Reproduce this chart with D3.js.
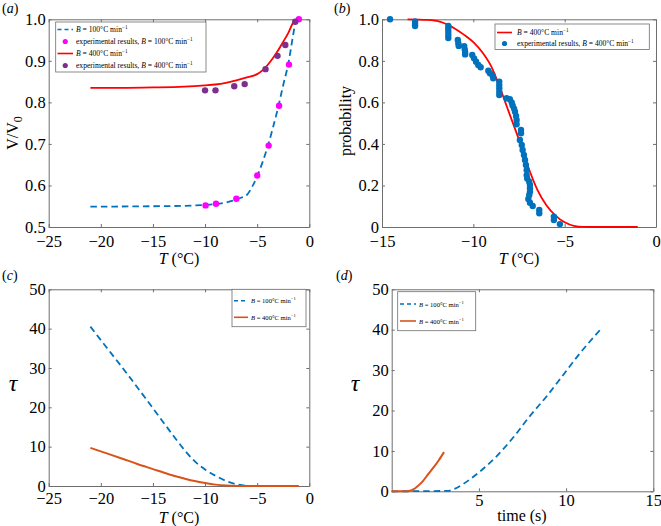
<!DOCTYPE html>
<html>
<head>
<meta charset="utf-8">
<script src="https://cdn.jsdelivr.net/npm/d3@7"></script>
<style>
  body { margin: 0; background: #fff; }
  svg text { font-family: "Liberation Serif", "Times New Roman", serif; fill: #000; }
</style>
</head>
<body>
<div id="chart"></div>
<script>
//------------------------------- data -------------------------------

// (a) normalised volume vs temperature
var aFit100T = [-21, -15, -12, -10, -9, -8, -7, -6.5, -6, -5.5, -5, -4.5, -4, -3.5, -3, -2.5, -2, -1.6, -1.3];
var aFit100V = [0.549, 0.550, 0.551, 0.553, 0.555, 0.559, 0.566, 0.571, 0.577, 0.596, 0.622, 0.655, 0.693, 0.738, 0.787, 0.842, 0.895, 0.955, 1.0];
var aExp100T = [-9.95, -8.95, -7, -5, -3.9, -2.9, -1.95, -1.0];
var aExp100V = [0.552, 0.556, 0.568, 0.624, 0.696, 0.792, 0.891, 1.0];
var aFit400T = [-21, -18, -15, -12, -10, -9, -8, -7, -6, -5, -4.5, -4, -3.5, -3, -2.5, -2, -1.6, -1.3];
var aFit400V = [0.835, 0.835, 0.836, 0.838, 0.841, 0.843, 0.847, 0.853, 0.86, 0.868, 0.877, 0.89, 0.906, 0.925, 0.946, 0.968, 0.99, 1.0];
var aExp400T = [-10, -9, -7.2, -6.2, -4.2, -3.05, -2.3, -1.35];
var aExp400V = [0.829, 0.829, 0.839, 0.844, 0.880, 0.912, 0.938, 0.994];

// (b) probability vs temperature
var bFitT = [-13.6, -12.5, -11.8, -11, -10.5, -10, -9.5, -9, -8.5, -8, -7.5, -7, -6.5, -6, -5.5, -5, -4.5, -4, -3, -2, -1];
var bFitP = [1.0, 0.997, 0.988, 0.955, 0.925, 0.89, 0.84, 0.77, 0.66, 0.54, 0.42, 0.29, 0.18, 0.105, 0.055, 0.023, 0.006, 0.001, 0, 0, 0];
var bExpT = [-14.56, -13.19, -13.19, -13.19,
  -11.37, -11.37, -11.37, -11.37, -11.37,
  -10.85, -10.82, -10.8, -10.5, -10.47, -10.45, -10.45,
  -10.06, -9.96, -9.85, -9.73, -9.6, -9.18, -9.09, -8.94, -8.91,
  -8.58, -8.58, -8.58, -8.58, -8.58,
  -8.18, -8.0, -7.9, -7.85, -7.77, -7.72, -7.66, -7.63, -7.63,
  -7.39, -7.39, -7.45, -7.35, -7.3, -7.23, -7.17, -7.12, -7.08, -7.08, -7.05,
  -6.94, -6.9, -6.9, -6.9, -6.94, -6.99, -6.9, -6.75,
  -6.39, -6.39, -5.59, -5.59, -5.26];
var bExpP = [1.0, 0.99, 0.978, 0.968,
  0.968, 0.955, 0.94, 0.925, 0.91,
  0.90, 0.885, 0.872, 0.871, 0.855, 0.842, 0.831,
  0.828, 0.812, 0.796, 0.78, 0.769, 0.752, 0.74, 0.728, 0.716,
  0.70, 0.684, 0.668, 0.651, 0.635,
  0.62, 0.615, 0.60, 0.585, 0.57, 0.555, 0.535, 0.515, 0.495,
  0.467, 0.451, 0.419, 0.395, 0.371, 0.347, 0.323, 0.299, 0.274, 0.25, 0.234,
  0.218, 0.202, 0.186, 0.17, 0.154, 0.135, 0.117, 0.101,
  0.082, 0.066, 0.05, 0.034, 0.014];

// (c) tau vs temperature
var c100T = [-21, -19.5, -17.5, -15.6, -13.7, -11.8, -11, -10, -9, -8, -7, -6, -5.2];
var c100Tau = [40.5, 35.4, 28.6, 21.9, 15.1, 8.6, 6.3, 4.2, 2.6, 1.3, 0.45, 0.05, 0];
var c400T = [-21, -19.5, -18, -16.5, -15, -13.5, -12, -11, -10, -9, -8, -7, -6, -1];
var c400Tau = [9.7, 8.35, 7.0, 5.6, 4.3, 3.0, 1.9, 1.25, 0.75, 0.35, 0.12, 0.02, 0, 0];

// (d) tau vs time
var d100t = [0, 3.2, 3.6, 4.1, 4.5, 5.06, 6.0, 7.0, 7.9, 8.9, 9.8, 10.8, 12.0];
var d100Tau = [0, 0.1, 0.6, 1.8, 3.0, 4.9, 8.6, 13.5, 18.5, 23.6, 28.6, 34.2, 40.2];
var d400t = [0, 0.9, 1.05, 1.2, 1.35, 1.5, 1.65, 1.8, 2.1, 2.4, 2.7, 3.0];
var d400Tau = [0, 0.02, 0.12, 0.4, 0.75, 1.3, 1.9, 2.6, 4.3, 5.9, 7.7, 9.7];

var ticksTemp = [-25, -20, -15, -10, -5, 0];
var ticksV = [0.5, 0.6, 0.7, 0.8, 0.9, 1.0];
var ticksBx = [-15, -10, -5, 0];
var ticksProb = [0, 0.2, 0.4, 0.6, 0.8, 1.0];
var ticksTau = [0, 10, 20, 30, 40, 50];
var ticksTime = [5, 10, 15];

//------------------------------- colours -------------------------------
var blue = "#0072BD", red = "#FF0000", orange = "#D95319", magenta = "#FF00FF", purple = "#7E2F8E";
var boxColor = "#6e6e6e";
var serif = '"Liberation Serif", "Times New Roman", serif';

function zip(a, b) { return a.map(function(d, i) { return [d, b[i]]; }); }

var svg = d3.select("#chart").append("svg")
  .attr("width", 661).attr("height", 526)
  .attr("font-family", serif);

//------------------------------- one panel -------------------------------
function makePanel(p) {
  var g = svg.append("g");
  var x = d3.scaleLinear().domain(p.xDomain).range([p.x0, p.x1]);
  var y = d3.scaleLinear().domain(p.yDomain).range([p.y1, p.y0]);

  // box + inward ticks on all four sides
  g.append("g").attr("transform", "translate(0," + p.y1 + ")")
    .call(d3.axisBottom(x).tickValues(p.xTicks).tickSize(-3).tickSizeOuter(0).tickPadding(p.xPad || 8).tickFormat(p.xFmt));
  g.append("g").attr("transform", "translate(0," + p.y0 + ")")
    .call(d3.axisTop(x).tickValues(p.xTicks).tickSize(-3).tickSizeOuter(0).tickFormat(""));
  g.append("g").attr("transform", "translate(" + p.x0 + ",0)")
    .call(d3.axisLeft(y).tickValues(p.yTicks).tickSize(-3).tickSizeOuter(0).tickPadding(3).tickFormat(p.yFmt));
  g.append("g").attr("transform", "translate(" + p.x1 + ",0)")
    .call(d3.axisRight(y).tickValues(p.yTicks).tickSize(-3).tickSizeOuter(0).tickFormat(""));

  g.selectAll("g").attr("font-family", serif);
  g.selectAll(".domain").attr("stroke", boxColor);
  g.selectAll(".tick line").attr("stroke", boxColor);
  g.selectAll(".tick text").attr("font-size", 16.5).attr("font-family", serif).attr("fill", "#000");

  // panel tag
  var tag = g.append("text").attr("x", p.tagX).attr("y", p.tagY).attr("font-size", 14);
  tag.append("tspan").text("(");
  tag.append("tspan").attr("font-style", "italic").text(p.tag);
  tag.append("tspan").text(")");

  return { g: g, x: x, y: y };
}

function drawLine(P, data, color, dashed, width) {
  var line = d3.line().curve(d3.curveMonotoneX)
    .x(function(d) { return P.x(d[0]); }).y(function(d) { return P.y(d[1]); });
  P.g.append("path").datum(data)
    .attr("d", line)
    .attr("fill", "none")
    .attr("stroke", color)
    .attr("stroke-width", width || 1.8)
    .attr("stroke-dasharray", dashed ? "6.5,4" : null);
}

function drawDots(P, data, color) {
  P.g.selectAll(null).data(data).enter().append("circle")
    .attr("cx", function(d) { return P.x(d[0]); })
    .attr("cy", function(d) { return P.y(d[1]); })
    .attr("r", 3.2)
    .attr("fill", color);
}

// legend label: "B = 100°C min-1" with optional prefix
function legendLabel(sel, prefix, rate) {
  if (prefix) sel.append("tspan").text(prefix);
  sel.append("tspan").attr("font-style", "italic").text("B");
  sel.append("tspan").text(" = " + rate + "°C min");
  sel.append("tspan").attr("dy", -3).attr("font-size", "0.7em").text("−1");
}

function drawLegend(P, L) {
  var lg = P.g.append("g");
  lg.append("rect")
    .attr("x", L.x0).attr("y", L.y0)
    .attr("width", L.x1 - L.x0).attr("height", L.y1 - L.y0)
    .attr("fill", "#fff").attr("stroke", boxColor).attr("stroke-width", 0.8);
  L.items.forEach(function(it, i) {
    var yy = L.rows[i];
    if (it.kind === "line") {
      lg.append("line")
        .attr("x1", L.sx0).attr("x2", L.sx1).attr("y1", yy).attr("y2", yy)
        .attr("stroke", it.color).attr("stroke-width", 1.6)
        .attr("stroke-dasharray", it.dashed ? "4,3" : null);
    } else {
      lg.append("circle").attr("cx", (L.sx0 + L.sx1) / 2).attr("cy", yy)
        .attr("r", 2.6).attr("fill", it.color);
    }
    var t = lg.append("text").attr("x", L.tx).attr("y", yy + 2.5).attr("font-size", L.fs);
    legendLabel(t, it.prefix, it.rate);
  });
}

var fmt1 = d3.format(".1f");
var fmtP = function(d) { return d === 0 ? "0" : d3.format(".1f")(d); };
var fmtInt = d3.format("d");

function tempTitle(P, cx, y) {
  var t = P.g.append("text").attr("x", cx).attr("y", y).attr("text-anchor", "middle").attr("font-size", 16);
  t.append("tspan").attr("font-style", "italic").text("T");
  t.append("tspan").text(" (°C)");
}

//------------------------------- (a) -------------------------------
var A = makePanel({
  x0: 48.7, x1: 309.3, y0: 19.3, y1: 227,
  xDomain: [-25, 0], yDomain: [0.5, 1.0],
  xTicks: ticksTemp, yTicks: ticksV, xFmt: fmtInt, yFmt: fmt1,
  tag: "a", tagX: 2, tagY: 13
});
drawLine(A, zip(aFit100T, aFit100V), blue, true);
drawDots(A, zip(aExp100T, aExp100V), magenta);
drawLine(A, zip(aFit400T, aFit400V), red, false);
drawDots(A, zip(aExp400T, aExp400V), purple);
drawLegend(A, {
  x0: 55.7, x1: 206, y0: 22, y1: 72, sx0: 57.5, sx1: 73, tx: 76, fs: 7.6,
  rows: [29.5, 41.5, 53.5, 65.5],
  items: [
    { kind: "line", color: blue, dashed: true, rate: 100 },
    { kind: "dot", color: magenta, prefix: "experimental results, ", rate: 100 },
    { kind: "line", color: red, rate: 400 },
    { kind: "dot", color: purple, prefix: "experimental results, ", rate: 400 }
  ]
});
tempTitle(A, 179, 264);
var aY = A.g.append("text").attr("transform", "translate(18,133) rotate(-90)").attr("text-anchor", "middle").attr("font-size", 16);
aY.append("tspan").text("V/V");
aY.append("tspan").attr("dy", 4).attr("font-size", 12).text("0");

//------------------------------- (b) -------------------------------
var B = makePanel({
  x0: 382, x1: 656, y0: 19.3, y1: 227,
  xDomain: [-15, 0], yDomain: [0, 1],
  xTicks: ticksBx, yTicks: ticksProb, xFmt: fmtInt, yFmt: fmtP,
  tag: "b", tagX: 334, tagY: 13
});
drawLine(B, zip(bFitT, bFitP), red, false);
drawDots(B, zip(bExpT, bExpP), blue);
drawLegend(B, {
  x0: 495, x1: 649.3, y0: 24, y1: 49.5, sx0: 497, sx1: 512, tx: 517, fs: 7.6,
  rows: [32.5, 43.5],
  items: [
    { kind: "line", color: red, rate: 400 },
    { kind: "dot", color: blue, prefix: "experimental results, ", rate: 400 }
  ]
});
tempTitle(B, 519, 264);
B.g.append("text").attr("transform", "translate(351,121) rotate(-90)").attr("text-anchor", "middle")
  .attr("font-size", 16).text("probability");

//------------------------------- (c) -------------------------------
var C = makePanel({
  x0: 48.7, x1: 309.3, y0: 289.3, y1: 486,
  xDomain: [-25, 0], yDomain: [0, 50],
  xTicks: ticksTemp, yTicks: ticksTau, xFmt: fmtInt, yFmt: fmtInt, xPad: 6,
  tag: "c", tagX: 2, tagY: 280
});
drawLine(C, zip(c100T, c100Tau), blue, true);
drawLine(C, zip(c400T, c400Tau), orange, false, 2);
drawLegend(C, {
  x0: 232, x1: 306, y0: 289.3, y1: 326.7, sx0: 234, sx1: 248, tx: 251, fs: 6.6,
  rows: [300.7, 317.3],
  items: [
    { kind: "line", color: blue, dashed: true, rate: 100 },
    { kind: "line", color: orange, rate: 400 }
  ]
});
tempTitle(C, 179, 523);
C.g.append("text").attr("x", 13).attr("y", 391).attr("text-anchor", "middle")
  .attr("font-size", 24).attr("font-style", "italic").text("τ");

//------------------------------- (d) -------------------------------
var D = makePanel({
  x0: 391.7, x1: 653.3, y0: 289.3, y1: 491.3,
  xDomain: [0, 15], yDomain: [0, 50],
  xTicks: ticksTime, yTicks: ticksTau, xFmt: fmtInt, yFmt: fmtInt, xPad: 3,
  tag: "d", tagX: 336, tagY: 280
});
drawLine(D, zip(d100t, d100Tau), blue, true);
drawLine(D, zip(d400t, d400Tau), orange, false, 2);
drawLegend(D, {
  x0: 397.7, x1: 475.7, y0: 291.7, y1: 330.7, sx0: 400, sx1: 416, tx: 419, fs: 6.6,
  rows: [304, 321],
  items: [
    { kind: "line", color: blue, dashed: true, rate: 100 },
    { kind: "line", color: orange, rate: 400 }
  ]
});
D.g.append("text").attr("x", 522).attr("y", 521).attr("text-anchor", "middle").attr("font-size", 16).text("time (s)");
D.g.append("text").attr("x", 355).attr("y", 391).attr("text-anchor", "middle")
  .attr("font-size", 24).attr("font-style", "italic").text("τ");
</script>
</body>
</html>
